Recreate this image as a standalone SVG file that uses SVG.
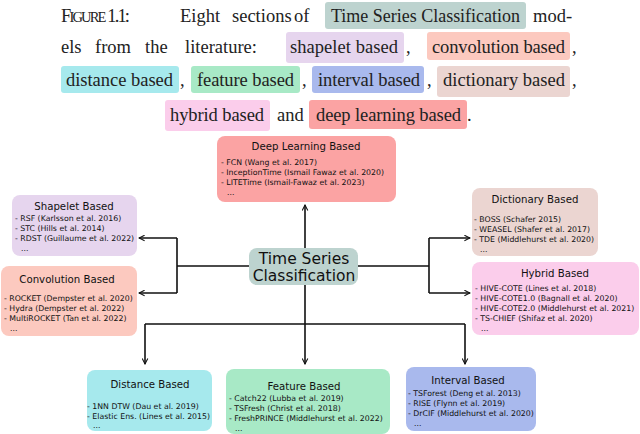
<svg xmlns="http://www.w3.org/2000/svg" width="640" height="434" viewBox="0 0 640 434">
<defs>
<style>
.cap{font-family:"Liberation Serif",serif;font-size:18.5px;fill:#222}
.t{font-family:"DejaVu Sans",sans-serif;font-size:10.2px;fill:#111}
.i{font-family:"DejaVu Sans",sans-serif;font-size:7.8px;fill:#111}
.c{font-family:"DejaVu Sans",sans-serif;font-size:15.5px;fill:#111;text-anchor:middle}
.ln{fill:none;stroke:#111;stroke-width:1.6}
</style>
<marker id="a" viewBox="0 0 10 10" refX="9" refY="5" markerWidth="7" markerHeight="7" orient="auto" markerUnits="userSpaceOnUse"><path d="M1 1L9 5L1 9" fill="none" stroke="#111" stroke-width="1.5"/></marker>
</defs>
<g id="caption">
<rect x="325" y="2" width="201" height="27" rx="3" fill="#bdd3cf"/>
<rect x="286" y="32" width="118" height="31" rx="3" fill="#e6d5ee"/>
<rect x="427" y="32" width="143" height="28" rx="3" fill="#fcc9bf"/>
<rect x="61" y="66" width="118" height="27" rx="3" fill="#a6e9ed"/>
<rect x="191" y="66" width="109" height="27" rx="3" fill="#a8e9c6"/>
<rect x="312" y="66" width="112" height="27" rx="3" fill="#a9b9ed"/>
<rect x="437" y="66" width="133" height="31" rx="3" fill="#ebd5d1"/>
<rect x="165" y="100" width="105" height="31" rx="3" fill="#fbcdeb"/>
<rect x="309" y="100" width="158" height="29" rx="3" fill="#fba3a3"/>
<text class="cap" x="61" y="22" textLength="69">F<tspan font-size="14.5">IGURE</tspan> 1.1:</text>
<text class="cap" x="180" y="22">Eight</text>
<text class="cap" x="232" y="22">sections</text>
<text class="cap" x="294" y="22">of</text>
<text class="cap" x="331" y="22" textLength="189" lengthAdjust="spacingAndGlyphs">Time Series Classification</text>
<text class="cap" x="533" y="22">mod-</text>
<text class="cap" x="61" y="53">els</text>
<text class="cap" x="95" y="53">from</text>
<text class="cap" x="145" y="53">the</text>
<text class="cap" x="185" y="53">literature:</text>
<text class="cap" x="290" y="53" textLength="108">shapelet based</text><text class="cap" x="406" y="53">,</text>
<text class="cap" x="432" y="53" textLength="133">convolution based</text><text class="cap" x="572" y="53">,</text>
<text class="cap" x="66" y="86" textLength="107">distance based</text><text class="cap" x="180" y="86">,</text>
<text class="cap" x="197" y="86" textLength="97">feature based</text><text class="cap" x="302" y="86">,</text>
<text class="cap" x="318" y="86" textLength="102">interval based</text><text class="cap" x="427" y="86">,</text>
<text class="cap" x="443" y="86" textLength="122">dictionary based</text><text class="cap" x="572" y="86">,</text>
<text class="cap" x="170" y="121" textLength="94">hybrid based</text>
<text class="cap" x="277" y="121">and</text>
<text class="cap" x="316" y="121" textLength="145">deep learning based</text><text class="cap" x="467" y="121">.</text>
</g>
<g id="connectors">
<path class="ln" d="M305 248V205" marker-end="url(#a)"/>
<path class="ln" d="M249 266H177M177 238V293"/>
<path class="ln" d="M177 238H139" marker-end="url(#a)"/>
<path class="ln" d="M177 293H139" marker-end="url(#a)"/>
<path class="ln" d="M358 266H429M429 238V293"/>
<path class="ln" d="M429 238H470" marker-end="url(#a)"/>
<path class="ln" d="M429 293H470" marker-end="url(#a)"/>
<path class="ln" d="M305 285V324M145 324H465"/>
<path class="ln" d="M145 324V364" marker-end="url(#a)"/>
<path class="ln" d="M305 324V364" marker-end="url(#a)"/>
<path class="ln" d="M465 324V364" marker-end="url(#a)"/>
</g>
<g id="center"><rect x="249" y="248" width="109" height="37" rx="8" fill="#bdd3cf"/>
<text class="c" x="304" y="264">Time Series</text><text class="c" x="304" y="281">Classification</text></g>
<g id="deep"><rect x="217" y="136" width="179" height="66" rx="8" fill="#fba3a3"/>
<text class="t" x="306" y="150" text-anchor="middle">Deep Learning Based</text>
<text class="i" x="221" y="165">- FCN (Wang et al. 2017)</text>
<text class="i" x="221" y="175">- InceptionTime (Ismail Fawaz et al. 2020)</text>
<text class="i" x="221" y="185">- LITETime (Ismail-Fawaz et al. 2023)</text>
<text class="i" x="227" y="195">...</text></g>
<g id="shapelet"><rect x="12" y="195" width="125" height="61" rx="8" fill="#e6d5ee"/>
<text class="t" x="74" y="210" text-anchor="middle">Shapelet Based</text>
<text class="i" x="15" y="221">- RSF (Karlsson et al. 2016)</text>
<text class="i" x="15" y="231">- STC (Hills et al. 2014)</text>
<text class="i" x="15" y="241">- RDST (Guillaume et al. 2022)</text>
<text class="i" x="21" y="251">...</text></g>
<g id="convolution"><rect x="1" y="266" width="136" height="70" rx="8" fill="#fcc9bf"/>
<text class="t" x="67" y="283" text-anchor="middle">Convolution Based</text>
<text class="i" x="4" y="301">- ROCKET (Dempster et al. 2020)</text>
<text class="i" x="4" y="311">- Hydra (Dempster et al. 2022)</text>
<text class="i" x="4" y="321">- MultiROCKET (Tan et al. 2022)</text>
<text class="i" x="10" y="331">...</text></g>
<g id="dictionary"><rect x="472" y="188" width="126" height="68" rx="8" fill="#ebd5d1"/>
<text class="t" x="535" y="203" text-anchor="middle">Dictionary Based</text>
<text class="i" x="474" y="222">- BOSS (Schafer 2015)</text>
<text class="i" x="474" y="232">- WEASEL (Shafer et al. 2017)</text>
<text class="i" x="474" y="242">- TDE (Middlehurst et al. 2020)</text>
<text class="i" x="480" y="252">...</text></g>
<g id="hybrid"><rect x="472" y="262" width="167" height="73" rx="8" fill="#fbcdeb"/>
<text class="t" x="555" y="277" text-anchor="middle">Hybrid Based</text>
<text class="i" x="475" y="291">- HIVE-COTE (Lines et al. 2018)</text>
<text class="i" x="475" y="301">- HIVE-COTE1.0 (Bagnall et al. 2020)</text>
<text class="i" x="475" y="311">- HIVE-COTE2.0 (Middlehurst et al. 2021)</text>
<text class="i" x="475" y="321">- TS-CHIEF (Shifaz et al. 2020)</text>
<text class="i" x="481" y="331">...</text></g>
<g id="distance"><rect x="87" y="370" width="125" height="61" rx="8" fill="#a6e9ed"/>
<text class="t" x="150" y="388" text-anchor="middle">Distance Based</text>
<text class="i" x="87" y="409">- 1NN DTW (Dau et al. 2019)</text>
<text class="i" x="87" y="419">- Elastic Ens. (Lines et al. 2015)</text>
<text class="i" x="93" y="428">...</text></g>
<g id="feature"><rect x="226" y="369" width="164" height="65" rx="8" fill="#a8e9c6"/>
<text class="t" x="304" y="390" text-anchor="middle">Feature Based</text>
<text class="i" x="229" y="401">- Catch22 (Lubba et al. 2019)</text>
<text class="i" x="229" y="411">- TSFresh (Christ et al. 2018)</text>
<text class="i" x="229" y="421">- FreshPRINCE (Middlehurst et al. 2022)</text>
<text class="i" x="235" y="431">...</text></g>
<g id="interval"><rect x="406" y="367" width="130" height="64" rx="8" fill="#a9b9ed"/>
<text class="t" x="468" y="384" text-anchor="middle">Interval Based</text>
<text class="i" x="408" y="396">- TSForest (Deng et al. 2013)</text>
<text class="i" x="408" y="406">- RISE (Flynn et al. 2019)</text>
<text class="i" x="408" y="416">- DrCIF (Middlehurst et al. 2020)</text>
<text class="i" x="414" y="426">...</text></g>
</svg>
